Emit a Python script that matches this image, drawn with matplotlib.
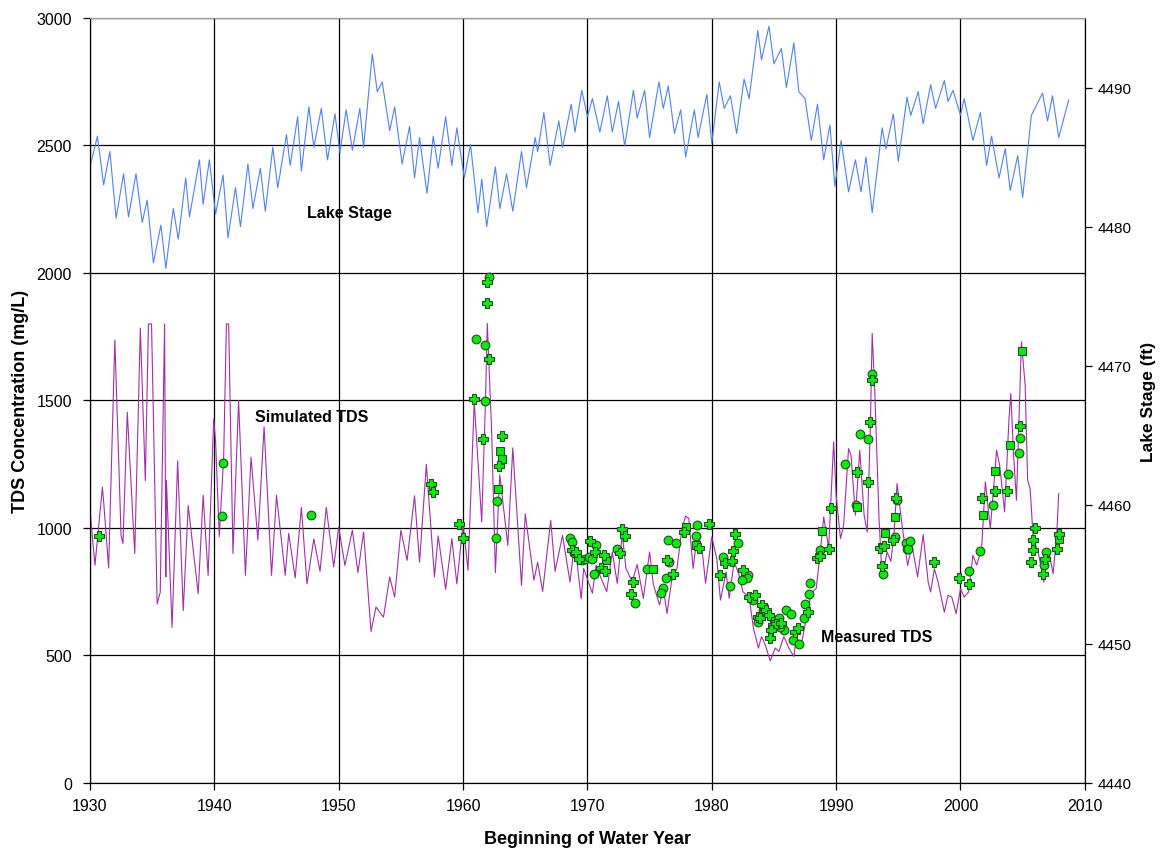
import numpy as np
import matplotlib
matplotlib.use("Agg")
import matplotlib.pyplot as plt

plt.rcParams['font.family'] = ['Liberation Sans', 'DejaVu Sans']

# Lake stage (ft), seasonal highs and lows
stage_year = [1930.0, 1930.6, 1931.1, 1931.6, 1932.1, 1932.7, 1933.1, 1933.7, 1934.2, 1934.6,
              1935.1, 1935.7, 1936.1, 1936.7, 1937.1, 1937.7, 1938.0, 1938.8, 1939.1, 1939.6,
              1940.1, 1940.7, 1941.1, 1941.7, 1942.1, 1942.7, 1943.1, 1943.7, 1944.1, 1944.7,
              1945.1, 1945.8, 1946.1, 1946.7, 1947.0, 1947.6, 1948.0, 1948.6, 1949.1, 1949.7,
              1950.1, 1950.6, 1951.1, 1951.7, 1952.0, 1952.7, 1953.1, 1953.5, 1954.1, 1954.5,
              1955.1, 1955.7, 1956.1, 1956.5, 1957.1, 1957.6, 1958.0, 1958.6, 1959.1, 1959.5,
              1960.1, 1960.6, 1961.2, 1961.5, 1961.9, 1962.6, 1962.96, 1963.5, 1964.0, 1964.7,
              1965.1, 1965.8, 1966.0, 1966.5, 1967.0, 1967.7, 1968.0, 1968.7, 1969.0, 1969.55,
              1970.0, 1970.4, 1971.0, 1971.6, 1972.0, 1972.5, 1973.0, 1973.7, 1974.0, 1974.6,
              1975.0, 1975.75, 1976.1, 1976.5, 1977.0, 1977.5, 1977.9, 1978.6, 1978.9, 1979.6,
              1980.0, 1980.6, 1981.0, 1981.5, 1982.0, 1982.6, 1983.0, 1983.7, 1984.0, 1984.6,
              1985.0, 1985.6, 1986.0, 1986.6, 1987.0, 1987.5, 1988.0, 1988.5, 1989.0, 1989.5,
              1989.9, 1990.4, 1991.0, 1991.55, 1992.0, 1992.4, 1992.9, 1993.7, 1994.0, 1994.6,
              1995.0, 1995.7, 1996.0, 1996.6, 1997.0, 1997.6, 1998.0, 1998.7, 1999.0, 1999.4,
              2000.0, 2000.3, 2001.0, 2001.6, 2002.1, 2002.5, 2003.1, 2003.6, 2004.0, 2004.6,
              2005.0, 2005.7, 2006.6, 2007.0, 2007.4, 2007.9, 2008.7]
stage_ft = [4484.3, 4486.5, 4483.0, 4485.4, 4480.6, 4483.8, 4480.7, 4483.8, 4480.3, 4481.9,
            4477.4, 4480.1, 4477.0, 4481.3, 4479.1, 4483.5, 4480.7, 4484.8, 4481.6, 4484.8,
            4480.9, 4483.7, 4479.2, 4482.8, 4480.0, 4484.5, 4481.3, 4484.2, 4481.1, 4485.7,
            4482.8, 4486.6, 4484.4, 4487.9, 4484.0, 4488.6, 4485.7, 4488.5, 4484.8, 4488.1,
            4485.3, 4488.4, 4485.5, 4488.5, 4485.7, 4492.4, 4489.7, 4490.4, 4486.9, 4488.6,
            4484.5, 4487.2, 4483.5, 4486.4, 4482.4, 4486.5, 4484.2, 4487.9, 4484.4, 4487.1,
            4483.5, 4485.9, 4481.0, 4483.4, 4480.0, 4484.3, 4481.3, 4483.8, 4481.1, 4485.4,
            4482.8, 4486.4, 4485.4, 4488.2, 4484.4, 4487.6, 4485.7, 4488.8, 4486.8, 4489.8,
            4487.9, 4489.2, 4486.8, 4489.4, 4486.8, 4489.0, 4485.8, 4489.8, 4487.8, 4489.8,
            4486.4, 4490.4, 4488.5, 4490.1, 4486.7, 4488.4, 4485.0, 4488.4, 4486.4, 4489.5,
            4486.0, 4490.4, 4488.5, 4489.4, 4486.7, 4490.6, 4489.2, 4494.1, 4492.0, 4494.4,
            4491.7, 4492.8, 4490.0, 4493.2, 4489.7, 4489.2, 4486.2, 4488.8, 4484.8, 4487.3,
            4482.9, 4486.2, 4482.5, 4484.8, 4482.5, 4485.0, 4481.0, 4487.1, 4485.6, 4488.1,
            4484.7, 4489.3, 4488.0, 4489.7, 4487.4, 4490.2, 4488.5, 4490.5, 4489.0, 4489.8,
            4488.0, 4489.2, 4486.2, 4488.2, 4484.4, 4486.5, 4483.5, 4485.6, 4482.6, 4485.1,
            4482.1, 4488.0, 4489.6, 4487.6, 4489.4, 4486.4, 4489.1]

# Simulated TDS (mg/L)
sim_year = [1930.0, 1930.4, 1931.0, 1931.1, 1931.5, 1932.0, 1932.5, 1932.65, 1933.0, 1933.6,
            1934.05, 1934.45, 1934.7, 1934.95, 1935.4, 1935.65, 1936.0, 1936.1, 1936.15, 1936.6,
            1937.05, 1937.5, 1937.9, 1938.7, 1939.1, 1939.5, 1939.95, 1940.1, 1940.4, 1940.75,
            1940.97, 1941.15, 1941.5, 1941.95, 1942.5, 1942.95, 1943.5, 1944.0, 1944.6, 1945.0,
            1945.7, 1945.98, 1946.5, 1947.0, 1947.45, 1948.0, 1948.5, 1949.0, 1949.6, 1950.0,
            1950.5, 1951.1, 1951.55, 1952.0, 1952.6, 1953.0, 1953.6, 1954.1, 1954.5, 1955.0,
            1955.5, 1956.1, 1956.5, 1957.05, 1957.7, 1958.0, 1958.6, 1959.1, 1959.5, 1960.0,
            1960.4, 1960.9, 1961.5, 1961.8, 1961.95, 1962.3, 1962.6, 1962.95, 1963.6, 1964.0,
            1964.7, 1965.0, 1965.7, 1966.0, 1966.4, 1967.05, 1967.4, 1968.0, 1968.6, 1968.98,
            1969.5, 1969.7, 1970.0, 1970.4, 1970.7, 1971.0, 1971.55, 1972.0, 1972.4, 1972.8,
            1973.1, 1973.6, 1974.0, 1974.5, 1975.0, 1975.3, 1975.8, 1976.1, 1976.4, 1976.8,
            1977.2, 1977.6, 1977.9, 1978.15, 1978.5, 1978.85, 1979.2, 1979.5, 1980.0, 1980.4,
            1980.7, 1981.15, 1981.4, 1981.8, 1982.2, 1982.5, 1983.0, 1983.35, 1983.75, 1984.0,
            1984.3, 1984.7, 1985.1, 1985.4, 1985.8, 1986.2, 1986.6, 1986.8, 1987.2, 1987.6,
            1988.0, 1988.4, 1988.7, 1989.0, 1989.4, 1989.8, 1990.0, 1990.35, 1990.6, 1991.0,
            1991.2, 1991.55, 1991.9, 1992.25, 1992.5, 1992.75, 1992.9, 1993.1, 1993.45, 1993.7,
            1994.1, 1994.4, 1994.65, 1994.9, 1995.3, 1995.75, 1996.1, 1996.55, 1997.0, 1997.4,
            1997.6, 1997.9, 1998.2, 1998.7, 1999.0, 1999.3, 1999.65, 2000.0, 2000.3, 2000.65,
            2001.0, 2001.3, 2001.7, 2002.0, 2002.4, 2002.9, 2003.15, 2003.55, 2003.9, 2004.05,
            2004.25, 2004.5, 2004.9, 2005.2, 2005.4, 2005.6, 2005.85, 2006.25, 2006.7, 2007.05,
            2007.45, 2007.75, 2007.9]
sim_tds = [1071, 854, 1160, 1102, 843, 1737, 970, 939, 1454, 900,
           1784, 1186, 1800, 1800, 702, 748, 1800, 808, 1186, 610,
           1263, 676, 1088, 742, 1128, 814, 1427, 1340, 966, 1278,
           1800, 1800, 900, 1500, 814, 1278, 953, 1397, 814, 1128,
           814, 979, 804, 1081, 781, 957, 830, 1081, 847, 1004,
           853, 991, 825, 984, 594, 690, 650, 808, 729, 991,
           873, 1126, 866, 1249, 808, 969, 759, 958, 781, 1017,
           834, 1497, 1024, 1495, 1802, 1380, 825, 1209, 932, 1314,
           775, 1056, 795, 866, 751, 1030, 830, 971, 788, 945,
           722, 841, 800, 744, 854, 815, 750, 906, 783, 978,
           841, 789, 857, 724, 906, 779, 698, 763, 665, 802,
           841, 997, 1047, 1037, 841, 978, 926, 783, 965, 880,
           717, 828, 724, 867, 815, 750, 730, 607, 529, 574,
           542, 479, 529, 516, 574, 529, 496, 568, 542, 646,
           744, 763, 893, 1043, 921, 1338, 1128, 958, 1010, 1311,
           1285, 1050, 1305, 1050, 984, 1390, 1763, 1547, 1037, 801,
           906, 869, 971, 1174, 1010, 853, 932, 808, 974, 788,
           749, 840, 788, 670, 736, 729, 664, 762, 729, 749,
           893, 854, 919, 1181, 997, 1305, 1246, 1063, 1429, 1528,
           1300, 1109, 1730, 1560, 1187, 1154, 958, 906, 788, 919,
           821, 984, 1135]

# Measured TDS (mg/L), by marker shape
meas_plus_year = [1930.7, 1957.4, 1957.6, 1959.65, 1960.0, 1960.9, 1961.6, 1961.95, 1961.95, 1962.1,
                  1963.1, 1962.9, 1968.75, 1969.1, 1969.3, 1970.2, 1970.6, 1971.1, 1971.3, 1971.4,
                  1972.6, 1972.8, 1973.0, 1973.7, 1973.5, 1976.4, 1976.9, 1977.8, 1979.0, 1979.8,
                  1981.9, 1981.7, 1981.1, 1981.6, 1980.7, 1982.5, 1983.0, 1983.5, 1984.0, 1984.4,
                  1983.75, 1983.9, 1984.6, 1984.9, 1985.2, 1985.6, 1984.8, 1984.7, 1986.7, 1986.9,
                  1987.7, 1988.5, 1988.7, 1989.4, 1989.55, 1991.7, 1992.7, 1992.55, 1992.85, 1993.5,
                  1993.85, 1993.65, 1994.8, 1994.6, 1997.9, 1999.9, 2000.7, 2001.75, 2002.75, 2003.75,
                  2004.8, 2006.0, 2005.85, 2005.8, 2005.7, 2006.8, 2006.65, 2007.95, 2007.75]
meas_plus_tds = [970, 1174, 1141, 1017, 961, 1504, 1347, 1881, 1966, 1661,
                 1361, 1243, 915, 905, 880, 948, 906, 844, 893, 831,
                 900, 995, 969, 789, 742, 876, 819, 984, 922, 1017,
                 978, 909, 861, 870, 815, 835, 730, 737, 698, 678,
                 652, 646, 659, 620, 625, 626, 600, 570, 591, 609,
                 672, 883, 891, 917, 1078, 1220, 1416, 1181, 1580, 921,
                 929, 851, 1119, 952, 866, 805, 781, 1118, 1144, 1144,
                 1400, 1000, 954, 915, 866, 877, 821, 978, 916]

meas_circ_year = [1940.7, 1940.65, 1947.8, 1961.05, 1961.8, 1961.8, 1962.1, 1962.7, 1962.65, 1968.6,
                  1968.8, 1968.9, 1969.6, 1969.8, 1970.1, 1970.4, 1970.5, 1970.7, 1972.4, 1973.8,
                  1974.8, 1976.5, 1977.1, 1976.6, 1976.3, 1976.1, 1975.9, 1978.85, 1978.7, 1982.1,
                  1980.9, 1981.5, 1982.9, 1982.8, 1982.4, 1983.35, 1984.1, 1983.75, 1985.0, 1985.4,
                  1985.8, 1985.5, 1986.0, 1986.4, 1986.5, 1987.0, 1987.4, 1987.5, 1987.85, 1987.9,
                  1988.7, 1990.75, 1991.6, 1991.9, 1992.6, 1992.9, 1993.75, 1994.9, 1994.7, 1995.6,
                  1995.7, 1995.8, 1995.95, 2000.7, 2001.6, 2002.6, 2003.8, 2004.7, 2004.8, 2006.9,
                  2006.7]
meas_circ_tds = [1256, 1046, 1050, 1740, 1717, 1499, 1986, 1106, 961, 962,
                 945, 900, 873, 880, 887, 878, 818, 935, 919, 704,
                 841, 954, 943, 867, 805, 763, 744, 1013, 969, 943,
                 887, 773, 815, 802, 796, 717, 678, 630, 639, 648,
                 600, 610, 678, 661, 561, 544, 646, 700, 740, 783,
                 915, 1249, 1092, 1367, 1348, 1602, 821, 1109, 965, 942,
                 919, 919, 949, 831, 910, 1092, 1213, 1295, 1353, 906,
                 856]

meas_sq_year = [1963.0, 1963.1, 1962.8, 1971.5, 1975.25, 1977.9, 1978.7, 1988.9, 1991.7, 1993.9,
                1994.75, 2001.8, 2002.8, 2003.95, 2004.95, 2007.9]
meas_sq_tds = [1302, 1272, 1154, 874, 841, 1004, 935, 988, 1082, 982,
               1043, 1052, 1223, 1325, 1695, 958]

year_ticks = list(range(1930, 2011, 10))
tds_ticks = list(range(0, 3001, 500))
stage_ticks = list(range(4440, 4491, 10))

fig = plt.figure(figsize=(11.64, 8.54), dpi=100)
ax = fig.add_axes([0.0773, 0.082, 0.8547, 0.8958])
ax2 = ax.twinx()

ax.set_xlim(1930, 2010)
ax.set_ylim(0, 3000)
ax2.set_ylim(4440, 4495)

ax.set_xticks(year_ticks)
ax.set_yticks(tds_ticks)
ax2.set_yticks(stage_ticks)
ax.grid(True, color='black', linewidth=0.9)
ax.set_axisbelow(True)

ax.plot(sim_year, sim_tds, color='#a030a8', linewidth=0.8, zorder=3)
mk = dict(linestyle='none', markerfacecolor='#00ee00', markeredgecolor='#2a4a2a',
          markeredgewidth=0.8, zorder=4)
ax.plot(meas_circ_year, meas_circ_tds, marker='o', markersize=6.3, **mk)
ax.plot(meas_sq_year, meas_sq_tds, marker='s', markersize=5.2, **mk)
ax.plot(meas_plus_year, meas_plus_tds, marker='P', markersize=7.5, **mk)

ax2.plot(stage_year, stage_ft, color='#4f82f0', linewidth=0.8)

for a in (ax, ax2):
    a.spines['top'].set_color('#999999')
    a.spines['left'].set_color('black')
    a.spines['right'].set_color('black')
    a.spines['bottom'].set_color('black')
    a.tick_params(direction='out', length=5, width=0.9, labelsize=11.5)
ax.tick_params(axis='y', pad=8)
ax.tick_params(axis='x', pad=6)
ax2.tick_params(axis='y', pad=4, labelsize=11)

ax.set_xlabel('Beginning of Water Year', fontsize=13, fontweight='bold', labelpad=12)
ax.set_ylabel('TDS Concentration (mg/L)', fontsize=13, fontweight='bold', labelpad=5)
ax2.set_ylabel('Lake Stage (ft)', fontsize=12.5, fontweight='bold', labelpad=7)

ax.text(1950.9, 2239, 'Lake Stage', fontsize=11.5, fontweight='bold', ha='center', va='center', zorder=5)
ax.text(1947.8, 1439, 'Simulated TDS', fontsize=11.5, fontweight='bold', ha='center', va='center', zorder=5)
ax.text(1993.3, 573, 'Measured TDS', fontsize=11.5, fontweight='bold', ha='center', va='center', zorder=5)

fig.savefig('out.png', dpi=100)
